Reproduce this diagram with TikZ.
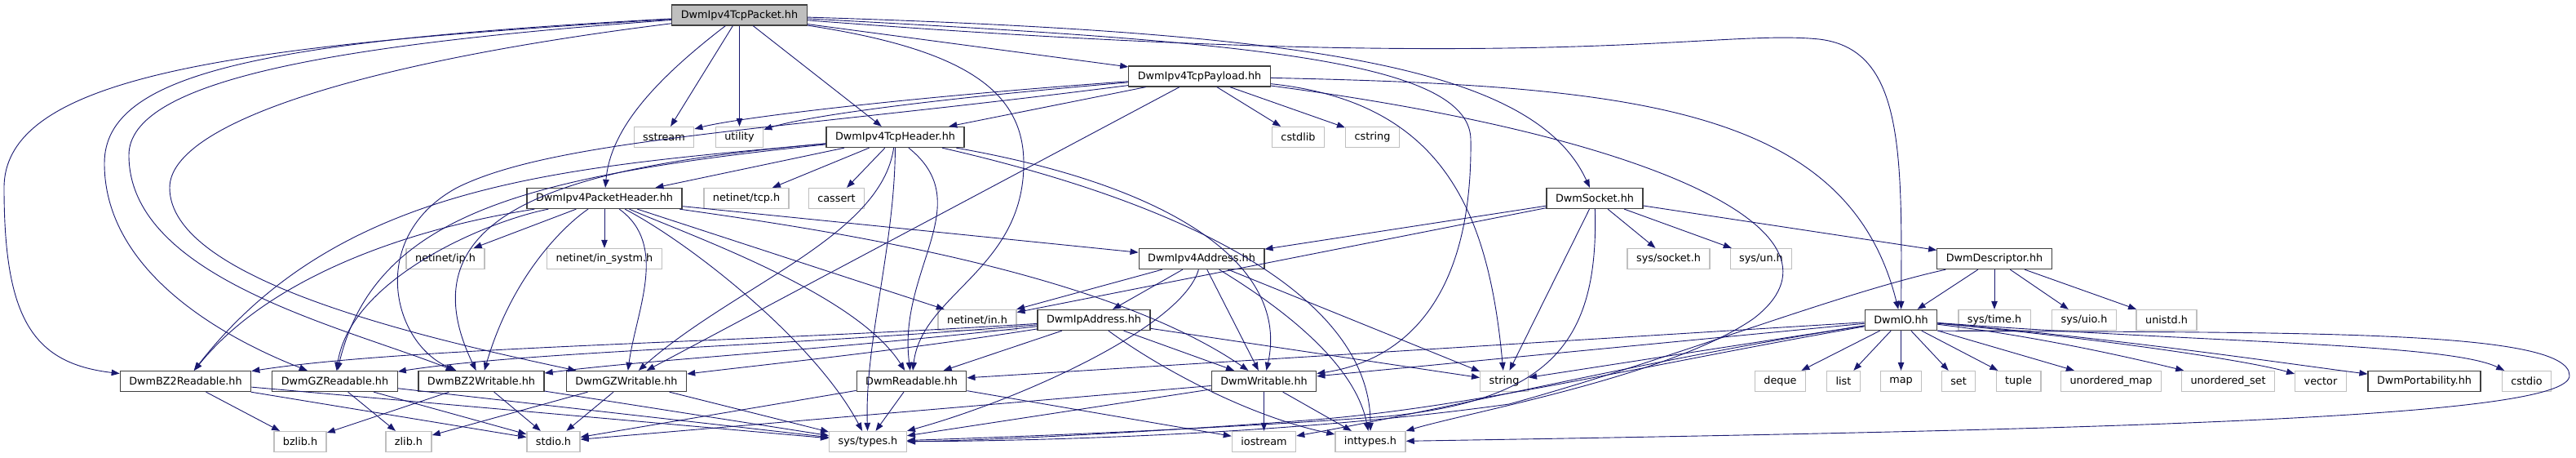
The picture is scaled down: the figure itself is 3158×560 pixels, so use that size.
\documentclass[tikz,border=0pt]{standalone}
\usepackage{fontspec}
\setmainfont{DejaVu Sans}
\usepackage{tikz}
\usetikzlibrary{arrows.meta,positioning}
\usepackage{xcolor}
\definecolor{depblue}{RGB}{25,25,112}
\definecolor{sysgray}{RGB}{191,191,191}
\definecolor{rootgray}{RGB}{191,191,191}
\definecolor{dwmdark}{RGB}{64,64,64}
\tikzstyle{dep} = [draw=depblue, line width=0.9pt, -{Triangle[length=10pt,width=7.5pt]}]
\tikzstyle{dwmfile} = [rectangle, draw=dwmdark, line width=1.3pt, fill=white, inner xsep=11pt, inner ysep=0pt, minimum height=25pt, font=\fontsize{12.8}{14}\selectfont]
\tikzstyle{sysfile} = [dwmfile, draw=sysgray]

\begin{document}
\begin{tikzpicture}[x=1pt, y=-1pt]
\useasboundingbox (0,0) rectangle (3158,560);

% the file itself
\node (pkt) [dwmfile, fill=rootgray] at (906.5,18.5) {DwmIpv4TcpPacket.hh};

% second and third level
\node (payload) [dwmfile] at (1470.5,93.5) {DwmIpv4TcpPayload.hh};
\node (sstream) [sysfile] at (814,168) {sstream};
\node (utility) [sysfile] at (906.5,168) {utility};
\node (tcphdr) [dwmfile] at (1097.5,168) {DwmIpv4TcpHeader.hh};
\node (cstdlib) [sysfile] at (1591.5,168) {cstdlib};
\node (cstring) [sysfile] at (1682.5,168) {cstring};

\node (pkthdr) [dwmfile] at (741,243) {DwmIpv4PacketHeader.hh};
\node (nettcp) [sysfile] at (915,243) {netinet/tcp.h};
\node (cassert) [sysfile] at (1025.5,243) {cassert};
\node (socket) [dwmfile] at (1955,243) {DwmSocket.hh};

\node (netip) [sysfile] at (546,317) {netinet/ip.h};
\node (insystm) [sysfile] at (741,317) {netinet/in\_systm.h};
\node (ipv4addr) [dwmfile] at (1473,317) {DwmIpv4Address.hh};
\node (syssocket) [sysfile] at (2045.5,317) {sys/socket.h};
\node (sysun) [sysfile] at (2159,317) {sys/un.h};
\node (descr) [dwmfile] at (2445,317) {DwmDescriptor.hh};

\node (netin) [sysfile] at (1198,392) {netinet/in.h};
\node (ipaddr) [dwmfile] at (1341,392) {DwmIpAddress.hh};
\node (dwmio) [dwmfile] at (2330.5,392) {DwmIO.hh};
\node (systime) [sysfile] at (2445,392) {sys/time.h};
\node (sysuio) [sysfile] at (2555,392) {sys/uio.h};
\node (unistd) [sysfile] at (2656,392) {unistd.h};

% readers and writers
\node (bzr) [dwmfile] at (227.5,467) {DwmBZ2Readable.hh};
\node (gzr) [dwmfile] at (410.5,467) {DwmGZReadable.hh};
\node (bzw) [dwmfile] at (590,467) {DwmBZ2Writable.hh};
\node (gzw) [dwmfile] at (768,467) {DwmGZWritable.hh};
\node (readable) [dwmfile] at (1117.5,467) {DwmReadable.hh};
\node (writable) [dwmfile] at (1549.5,467) {DwmWritable.hh};
\node (string) [sysfile] at (1844,467) {string};
\node (deque) [sysfile] at (2182.5,467) {deque};
\node (list) [sysfile] at (2260,467) {list};
\node (map) [sysfile] at (2330.5,467) {map};
\node (set) [sysfile] at (2401,467) {set};
\node (tuple) [sysfile] at (2474.5,467) {tuple};
\node (umap) [sysfile] at (2588,467) {unordered\_map};
\node (uset) [sysfile] at (2731.5,467) {unordered\_set};
\node (vector) [sysfile] at (2845,467) {vector};
\node (portab) [dwmfile] at (2972,467) {DwmPortability.hh};
\node (cstdio) [sysfile] at (3097.5,467) {cstdio};

% bottom row
\node (bzlib) [sysfile] at (368,541) {bzlib.h};
\node (zlib) [sysfile] at (501,541) {zlib.h};
\node (stdio) [sysfile] at (678.5,541) {stdio.h};
\node (systypes) [sysfile] at (1064,541) {sys/types.h};
\node (iostream) [sysfile] at (1549.5,541) {iostream};
\node (inttypes) [sysfile] at (1680,541) {inttypes.h};

% DwmIpv4TcpPacket.hh
\draw[dep] (pkt) .. controls (300,55) and (5,90) .. (5,230) .. controls (5,390) and (40,445) .. (bzr);
\draw[dep] (pkt) .. controls (320,50) and (128,90) .. (128,200) .. controls (128,340) and (290,420) .. (gzr);
\draw[dep] (pkt) .. controls (400,55) and (158,100) .. (158,190) .. controls (158,340) and (420,400) .. (bzw);
\draw[dep] (pkt) .. controls (450,75) and (208,150) .. (208,230) .. controls (208,340) and (500,410) .. (gzw);
\draw[dep] (pkt) .. controls (800,100) and (748,160) .. (pkthdr);
\draw[dep] (pkt) -- (sstream);
\draw[dep] (pkt) -- (utility);
\draw[dep] (pkt) -- (tcphdr);
\draw[dep] (pkt) -- (payload);
\draw[dep] (pkt) .. controls (1180,60) and (1255,110) .. (1255,200) .. controls (1255,330) and (1130,360) .. (readable);
\draw[dep] (pkt) .. controls (1500,50) and (1800,70) .. (1803,170) .. controls (1806,390) and (1700,445) .. (writable);
\draw[dep] (pkt) .. controls (1600,40) and (1880,80) .. (socket);
\draw[dep] (pkt) .. controls (1900,95) and (2100,35) .. (2230,48) .. controls (2332,60) and (2332,180) .. (dwmio);

% DwmIpv4TcpPayload.hh
\draw[dep] (payload) .. controls (1100,120) and (900,145) .. (sstream);
\draw[dep] (payload) .. controls (1100,125) and (980,145) .. (utility);
\draw[dep] (payload) -- (tcphdr);
\draw[dep] (payload) -- (cstdlib);
\draw[dep] (payload) -- (cstring);
\draw[dep] (payload) .. controls (1770,125) and (1825,260) .. (string);
\draw[dep] (payload) .. controls (2000,105) and (2265,130) .. (dwmio);
\draw[dep] (payload) .. controls (2050,170) and (2280,290) .. (2150,390) .. controls (2050,460) and (1800,505) .. (inttypes);
\draw[dep] (payload) .. controls (950,160) and (680,170) .. (560,230) .. controls (450,290) and (480,420) .. (bzw);
\draw[dep] (payload) -- (gzw);

% DwmIpv4TcpHeader.hh
\draw[dep] (tcphdr) -- (pkthdr);
\draw[dep] (tcphdr) -- (nettcp);
\draw[dep] (tcphdr) -- (cassert);
\draw[dep] (tcphdr) .. controls (1097,300) and (1060,420) .. (systypes);
\draw[dep] (tcphdr) .. controls (1200,250) and (1100,330) .. (readable);
\draw[dep] (tcphdr) .. controls (1450,230) and (1580,330) .. (writable);
\draw[dep] (tcphdr) .. controls (1500,260) and (1680,380) .. (inttypes);
\draw[dep] (tcphdr) .. controls (700,205) and (420,220) .. (bzr);
\draw[dep] (tcphdr) .. controls (650,215) and (460,260) .. (gzr);
\draw[dep] (tcphdr) .. controls (750,200) and (480,240) .. (bzw);
\draw[dep] (tcphdr) .. controls (1080,290) and (900,350) .. (gzw);

% DwmIpv4PacketHeader.hh
\draw[dep] (pkthdr) -- (netip);
\draw[dep] (pkthdr) -- (insystm);
\draw[dep] (pkthdr) -- (netin);
\draw[dep] (pkthdr) -- (ipv4addr);
\draw[dep] (pkthdr) .. controls (850,300) and (1000,420) .. (systypes);
\draw[dep] (pkthdr) .. controls (850,290) and (1050,360) .. (readable);
\draw[dep] (pkthdr) .. controls (1000,280) and (1350,330) .. (writable);
\draw[dep] (pkthdr) .. controls (500,280) and (330,340) .. (bzr);
\draw[dep] (pkthdr) .. controls (600,270) and (430,340) .. (gzr);
\draw[dep] (pkthdr) .. controls (700,270) and (630,330) .. (bzw);
\draw[dep] (pkthdr) .. controls (820,300) and (780,380) .. (gzw);

% DwmIpv4Address.hh
\draw[dep] (ipv4addr) -- (netin);
\draw[dep] (ipv4addr) -- (ipaddr);
\draw[dep] (ipv4addr) .. controls (1450,400) and (1250,490) .. (systypes);
\draw[dep] (ipv4addr) .. controls (1560,370) and (1660,440) .. (inttypes);
\draw[dep] (ipv4addr) -- (string);
\draw[dep] (ipv4addr) -- (writable);

% DwmIpAddress.hh
\draw[dep] (ipaddr) .. controls (900,420) and (500,425) .. (bzr);
\draw[dep] (ipaddr) .. controls (950,425) and (650,430) .. (gzr);
\draw[dep] (ipaddr) .. controls (1000,430) and (800,440) .. (bzw);
\draw[dep] (ipaddr) .. controls (1100,430) and (950,445) .. (gzw);
\draw[dep] (ipaddr) -- (readable);
\draw[dep] (ipaddr) -- (writable);
\draw[dep] (ipaddr) -- (string);
\draw[dep] (ipaddr) .. controls (1420,450) and (1530,510) .. (inttypes);

% DwmSocket.hh
\draw[dep] (socket) -- (ipv4addr);
\draw[dep] (socket) -- (netin);
\draw[dep] (socket) -- (syssocket);
\draw[dep] (socket) -- (sysun);
\draw[dep] (socket) -- (descr);
\draw[dep] (socket) -- (string);
\draw[dep] (socket) .. controls (1960,420) and (1900,490) .. (1700,510) .. controls (1500,525) and (1250,535) .. (systypes);

% DwmDescriptor.hh
\draw[dep] (descr) -- (dwmio);
\draw[dep] (descr) -- (systime);
\draw[dep] (descr) -- (sysuio);
\draw[dep] (descr) -- (unistd);
\draw[dep] (descr) .. controls (2250,360) and (2050,440) .. (1850,495) .. controls (1600,530) and (1300,540) .. (systypes);

% DwmIO.hh
\draw[dep] (dwmio) -- (deque);
\draw[dep] (dwmio) -- (list);
\draw[dep] (dwmio) -- (map);
\draw[dep] (dwmio) -- (set);
\draw[dep] (dwmio) -- (tuple);
\draw[dep] (dwmio) -- (umap);
\draw[dep] (dwmio) .. controls (2500,412) and (2620,440) .. (uset);
\draw[dep] (dwmio) .. controls (2550,412) and (2750,440) .. (vector);
\draw[dep] (dwmio) .. controls (2600,415) and (2800,445) .. (portab);
\draw[dep] (dwmio) .. controls (2700,420) and (3000,420) .. (cstdio);
\draw[dep] (dwmio.south east) .. controls (2800,408) and (3150,402) .. (3150,460) .. controls (3150,512) and (2600,526) .. (inttypes);
\draw[dep] (dwmio) -- (string);
\draw[dep] (dwmio) -- (writable);
\draw[dep] (dwmio) -- (readable);
\draw[dep] (dwmio) .. controls (2020,440) and (1780,500) .. (iostream);
\draw[dep] (dwmio) .. controls (2000,450) and (1800,500) .. (1600,515) .. controls (1400,530) and (1200,540) .. (systypes);

% DwmReadable.hh and DwmWritable.hh
\draw[dep] (readable) -- (systypes);
\draw[dep] (readable) -- (stdio);
\draw[dep] (readable) -- (iostream);
\draw[dep] (writable) -- (iostream);
\draw[dep] (writable) -- (inttypes);
\draw[dep] (writable) -- (systypes);
\draw[dep] (writable) -- (stdio);

% compressed readers and writers
\draw[dep] (bzr) -- (bzlib);
\draw[dep] (bzr) -- (stdio);
\draw[dep] (bzr) -- (systypes);
\draw[dep] (gzr) -- (zlib);
\draw[dep] (gzr) -- (stdio);
\draw[dep] (gzr) -- (systypes);
\draw[dep] (bzw) -- (bzlib);
\draw[dep] (bzw) -- (stdio);
\draw[dep] (bzw) -- (systypes);
\draw[dep] (gzw) -- (zlib);
\draw[dep] (gzw) -- (stdio);
\draw[dep] (gzw) -- (systypes);
\end{tikzpicture}
\end{document}
